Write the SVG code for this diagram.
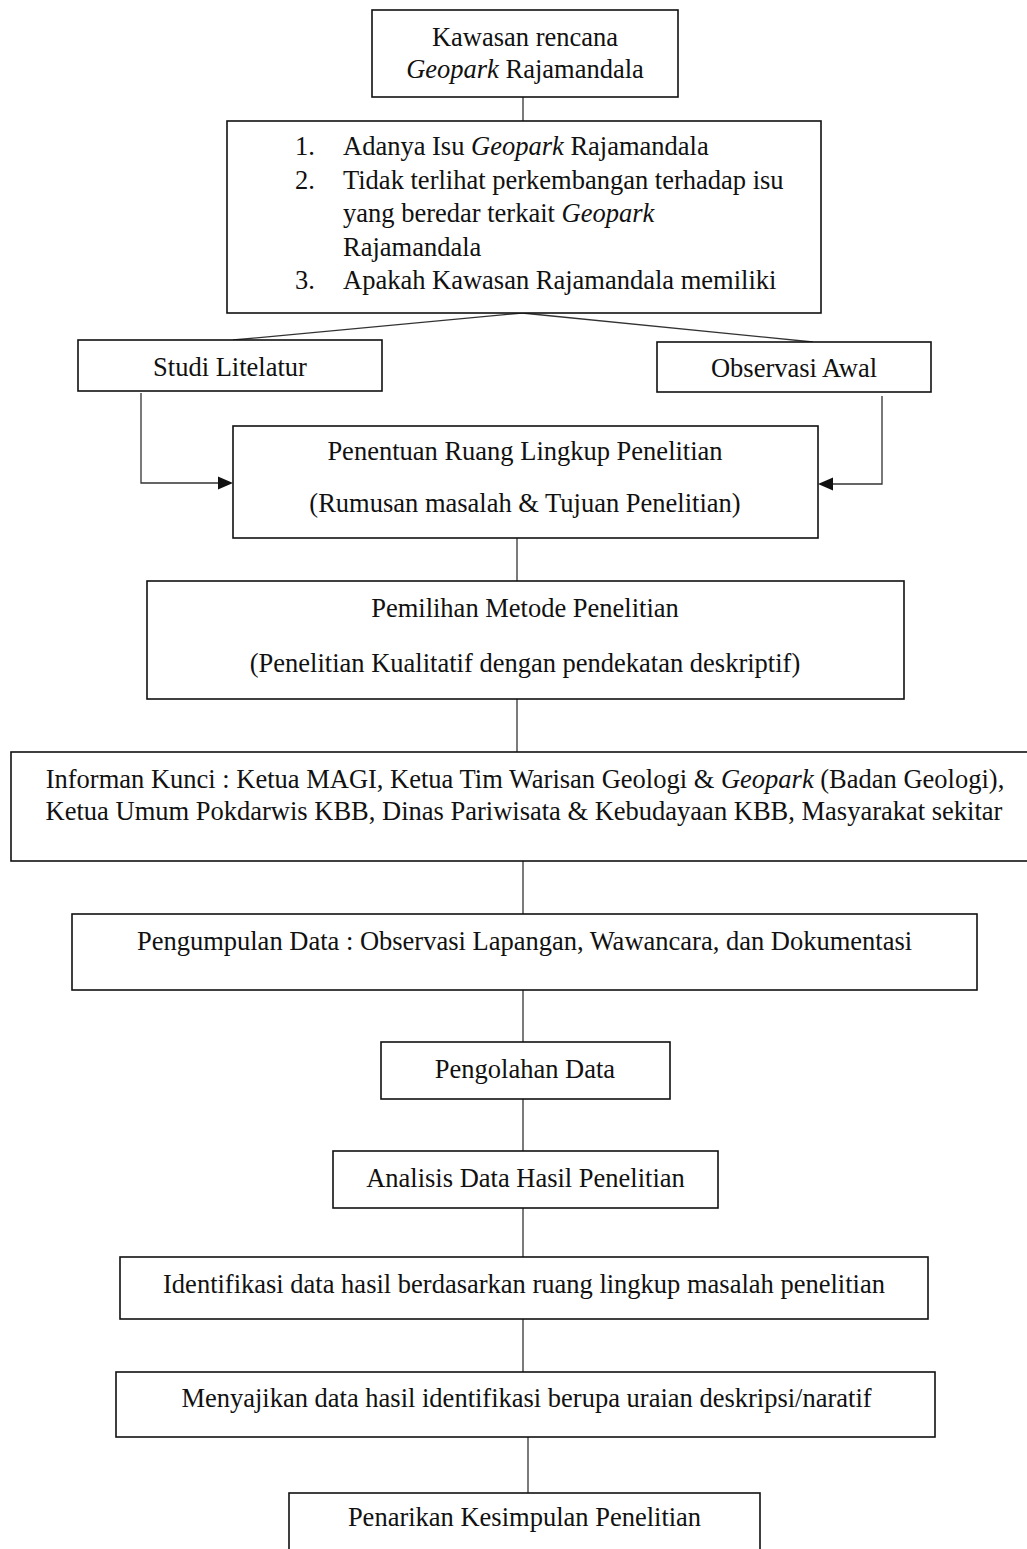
<svg xmlns="http://www.w3.org/2000/svg" width="1027" height="1549" viewBox="0 0 1027 1549">
<style>
.box{fill:#fff;stroke:#111;stroke-width:1.6}
.t{font-family:"Liberation Serif","Times New Roman",serif;font-size:26.5px;fill:#111}
.c{text-anchor:middle}
.i{font-style:italic}
.ln{fill:none;stroke:#333;stroke-width:1.3}
.ah{fill:#111;stroke:none}
</style>
<rect width="1027" height="1549" fill="#fff"/>
<g id="connectors">
<line class="ln" x1="523" y1="97" x2="523" y2="121"/>
<line class="ln" x1="522" y1="313" x2="233" y2="340"/>
<line class="ln" x1="522" y1="313" x2="813" y2="342"/>
<polyline class="ln" points="141,393 141,483 220,483"/>
<polygon class="ah" points="233,483 218,476.5 218,489.5"/>
<polyline class="ln" points="882,396 882,484 831,484"/>
<polygon class="ah" points="818,484 833,477.5 833,490.5"/>
<line class="ln" x1="517" y1="538" x2="517" y2="581"/>
<line class="ln" x1="517" y1="699" x2="517" y2="752"/>
<line class="ln" x1="523" y1="861" x2="523" y2="914"/>
<line class="ln" x1="523" y1="990" x2="523" y2="1042"/>
<line class="ln" x1="523" y1="1099" x2="523" y2="1151"/>
<line class="ln" x1="523" y1="1208" x2="523" y2="1257"/>
<line class="ln" x1="523" y1="1319" x2="523" y2="1372"/>
<line class="ln" x1="528" y1="1437" x2="528" y2="1493"/>
</g>
<g id="n1">
<rect class="box" x="372" y="10" width="306" height="87"/>
<text class="t c" x="525" y="46">Kawasan rencana</text>
<text class="t c" x="525" y="78"><tspan class="i">Geopark</tspan> Rajamandala</text>
</g>
<g id="n2">
<rect class="box" x="227" y="121" width="594" height="192"/>
<text class="t" x="295" y="155">1.</text>
<text class="t" x="343" y="155">Adanya Isu <tspan class="i">Geopark</tspan> Rajamandala</text>
<text class="t" x="295" y="188.5">2.</text>
<text class="t" x="343" y="188.5">Tidak terlihat perkembangan terhadap isu</text>
<text class="t" x="343" y="222">yang beredar terkait <tspan class="i">Geopark</tspan></text>
<text class="t" x="343" y="255.5">Rajamandala</text>
<text class="t" x="295" y="289">3.</text>
<text class="t" x="343" y="289">Apakah Kawasan Rajamandala memiliki</text>
</g>
<g id="n3">
<rect class="box" x="78" y="340" width="304" height="51"/>
<text class="t c" x="230" y="376">Studi Litelatur</text>
</g>
<g id="n4">
<rect class="box" x="657" y="342" width="274" height="50"/>
<text class="t c" x="794" y="377">Observasi Awal</text>
</g>
<g id="n5">
<rect class="box" x="233" y="426" width="585" height="112"/>
<text class="t c" x="525" y="460">Penentuan Ruang Lingkup Penelitian</text>
<text class="t c" x="525" y="512">(Rumusan masalah &amp; Tujuan Penelitian)</text>
</g>
<g id="n6">
<rect class="box" x="147" y="581" width="757" height="118"/>
<text class="t c" x="525" y="617">Pemilihan Metode Penelitian</text>
<text class="t c" x="525" y="672">(Penelitian Kualitatif dengan pendekatan deskriptif)</text>
</g>
<g id="n7">
<rect class="box" x="11" y="752" width="1030" height="109"/>
<text class="t c" x="525" y="788">Informan Kunci : Ketua MAGI, Ketua Tim Warisan Geologi &amp; <tspan class="i">Geopark</tspan> (Badan Geologi),</text>
<text class="t c" x="524" y="820">Ketua Umum Pokdarwis KBB, Dinas Pariwisata &amp; Kebudayaan KBB, Masyarakat sekitar</text>
</g>
<g id="n8">
<rect class="box" x="72" y="914" width="905" height="76"/>
<text class="t c" x="524.5" y="950">Pengumpulan Data : Observasi Lapangan, Wawancara, dan Dokumentasi</text>
</g>
<g id="n9">
<rect class="box" x="381" y="1042" width="289" height="57"/>
<text class="t c" x="525" y="1078">Pengolahan Data</text>
</g>
<g id="n10">
<rect class="box" x="333" y="1151" width="385" height="57"/>
<text class="t c" x="525.5" y="1187">Analisis Data Hasil Penelitian</text>
</g>
<g id="n11">
<rect class="box" x="120" y="1257" width="808" height="62"/>
<text class="t c" x="524" y="1293">Identifikasi data hasil berdasarkan ruang lingkup masalah penelitian</text>
</g>
<g id="n12">
<rect class="box" x="116" y="1372" width="819" height="65"/>
<text class="t c" x="526.5" y="1407">Menyajikan data hasil identifikasi berupa uraian deskripsi/naratif</text>
</g>
<g id="n13">
<rect class="box" x="289" y="1493" width="471" height="70"/>
<text class="t c" x="524.5" y="1526">Penarikan Kesimpulan Penelitian</text>
</g>
</svg>
